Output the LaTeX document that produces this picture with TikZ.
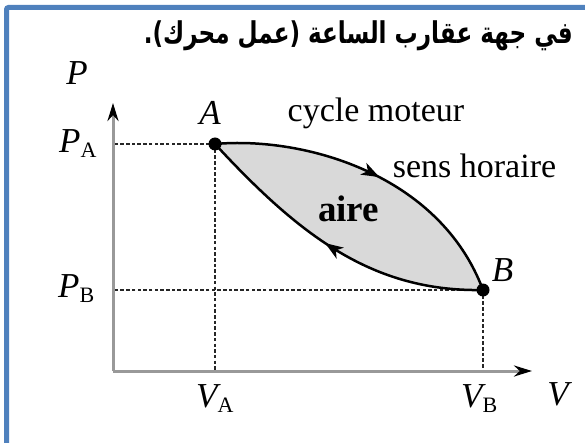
\documentclass[tikz,border=0pt]{standalone}
\usepackage{fontspec}
\setmainfont{Liberation Serif}
\newfontfamily\arabicfont[Script=Arabic]{DejaVu Sans}
\TeXXeTstate=1
\usetikzlibrary{arrows.meta,positioning,decorations.markings}
\definecolor{frameblue}{RGB}{79,129,189}
\definecolor{lensgray}{RGB}{217,217,217}
\newcommand{\lowidx}[1]{\raisebox{-5pt}{\fontsize{22}{22}\selectfont\upshape #1}}

\begin{document}
\begin{tikzpicture}[
    x=1pt, y=-1pt,
    frameline/.style={draw=frameblue, line width=5pt, rounded corners=2pt},
    axisline/.style={draw=black!40, line width=3pt, -{Stealth[black, length=18pt, width=11pt]}},
    guideline/.style={draw=black!85, line width=1.8pt, dash pattern=on 3.5pt off 2.2pt},
    dotpt/.style={circle, fill=black, inner sep=0pt, minimum size=13pt},
    cyclepath/.style={draw=black, line width=2.5pt},
    midarrow/.style={postaction={decorate}, decoration={markings, mark=at position #1 with {\arrow{Stealth[length=18pt, width=13pt, inset=5pt]}}}},
    ital/.style={font=\fontsize{35}{35}\selectfont\itshape, inner sep=0pt},
    word/.style={font=\fontsize{34}{34}\selectfont, inner sep=0pt},
]
\useasboundingbox (0,0) rectangle (585,443);
% Frame
\draw[frameline] (6.5,443) -- (6.5,7.5) -- (585,7.5);
% Title
\node[anchor=base east, inner sep=0pt, font=\arabicfont\bfseries\fontsize{30}{30}\selectfont] (title) at (573,44) {\scalebox{0.77}[1]{\beginR في جهة عقارب الساعة (عمل محرك).\endR}};

% Axes
\coordinate (O) at (113,371);
\coordinate (Ytop) at (113,103);
\coordinate (Xend) at (532,371);
\coordinate (A) at (215,144);
\coordinate (B) at (483,290);

% Cycle
\path[fill=lensgray] (A) .. controls (305,136) and (440,175) .. (B) .. controls (373,292) and (300,236) .. (A) -- cycle;

% Guides
\draw[guideline] (A) -- (A -| O);
\draw[guideline] (A) -- (A |- O);
\draw[guideline] (B) -- (B -| O);
\draw[guideline] (B) -- (B |- O);

\draw[axisline] (O) -- (Ytop);
\draw[axisline] (O) -- (Xend);

\draw[cyclepath, midarrow=0.52] (A) .. controls (305,136) and (440,175) .. (B);
\draw[cyclepath, midarrow=0.53] (B) .. controls (373,292) and (300,236) .. (A);

\node[dotpt] (ptA) at (A) {};
\node[dotpt] (ptB) at (B) {};

% Labels
\node[ital, above=13pt of ptA, xshift=-5pt] (lA) {A};
\node[ital, above right=3pt and 4pt of ptB] (lB) {B};
\node[ital, anchor=base] (lP) at (77,85) {P};
\node[ital, anchor=base west] (lPA) at (59,153) {P\lowidx{A}};
\node[ital, anchor=base west] (lPB) at (58,297) {P\lowidx{B}};
\node[ital, anchor=base west] (lVA) at (196,407) {V\lowidx{A}};
\node[ital, anchor=base west] (lVB) at (461,407) {V\lowidx{B}};
\node[ital, anchor=base] (lV) at (558,405) {V};

\node[word, anchor=base] (cyc) at (376,122) {cycle moteur};
\node[word, anchor=base] (sens) at (474.5,178) {sens horaire};
\node[word, font=\fontsize{37}{37}\selectfont\bfseries, anchor=base] (aire) at (348.5,222) {aire};
\end{tikzpicture}
\end{document}
